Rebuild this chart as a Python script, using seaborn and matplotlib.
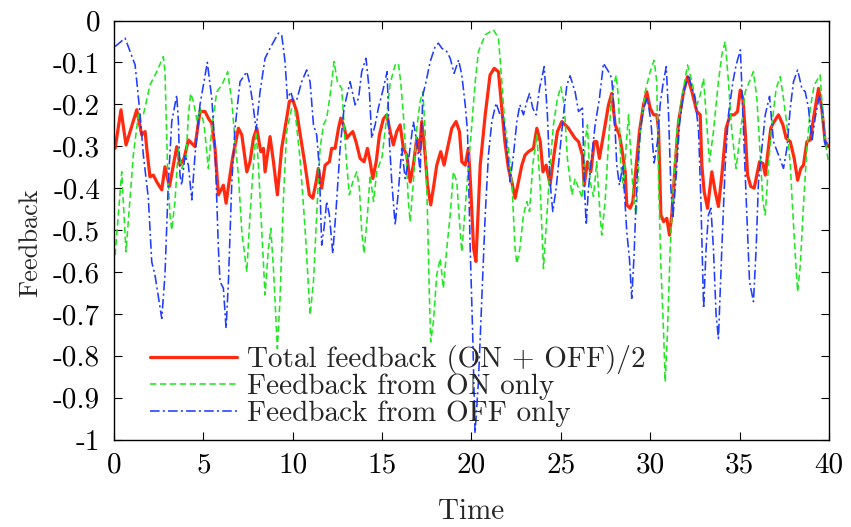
import numpy as np
import pandas as pd
import matplotlib
matplotlib.use("Agg")
import matplotlib.pyplot as plt
import seaborn as sns

# ---------------- data ----------------
t_total = [0.06,0.39,0.67,1.27,1.55,1.74,1.83,2.01,2.2,2.39,2.67,2.85,3.1,3.32,3.51,3.69,3.92,4.16,4.53,4.81,
           5.09,5.3,5.47,5.65,5.84,6.12,6.27,6.49,6.63,6.96,7.15,7.43,7.61,7.8,7.99,8.21,8.36,8.45,8.73,8.92,
           9.14,9.38,9.63,9.81,10.0,10.22,10.41,10.69,10.93,11.12,11.31,11.43,11.62,11.81,12.05,12.18,12.37,12.56,12.69,12.84,
           13.02,13.17,13.36,13.54,13.77,13.99,14.18,14.33,14.48,14.67,14.85,15.07,15.26,15.45,15.63,15.82,16.01,16.19,16.38,16.57,
           16.75,16.94,17.09,17.22,17.41,17.54,17.72,17.87,18.06,18.28,18.47,18.66,18.9,19.14,19.33,19.46,19.65,19.83,19.96,20.12,
           20.25,20.49,20.77,21.04,21.27,21.51,21.7,21.87,22.07,22.26,22.44,22.63,22.82,23.0,23.19,23.47,23.66,23.85,24.0,24.18,
           24.4,24.59,24.81,25.06,25.24,25.43,25.67,25.8,25.99,26.21,26.31,26.49,26.68,26.87,27.01,27.16,27.29,27.48,27.67,27.85,
           28.04,28.28,28.47,28.6,28.69,28.88,29.03,29.22,29.4,29.63,29.81,30.0,30.19,30.37,30.47,30.6,30.75,30.93,31.08,31.21,
           31.4,31.59,31.87,32.09,32.34,32.61,32.8,32.89,33.02,33.21,33.45,33.64,33.82,34.01,34.25,34.48,34.7,34.89,35.04,35.19,
           35.32,35.45,35.63,35.82,35.97,36.12,36.31,36.44,36.57,36.75,36.94,37.18,37.43,37.61,37.84,38.06,38.25,38.43,38.58,38.77,
           38.96,39.14,39.42,39.6,39.79,39.98]
total = [-0.305,-0.213,-0.297,-0.213,-0.273,-0.265,-0.305,-0.373,-0.369,-0.385,-0.404,-0.349,-0.396,-0.345,-0.301,-0.345,-0.329,-0.285,-0.301,-0.217,
         -0.217,-0.235,-0.245,-0.305,-0.416,-0.393,-0.436,-0.369,-0.329,-0.257,-0.273,-0.361,-0.337,-0.281,-0.257,-0.313,-0.305,-0.361,-0.277,-0.337,
         -0.416,-0.305,-0.241,-0.193,-0.189,-0.217,-0.27,-0.345,-0.416,-0.424,-0.385,-0.353,-0.400,-0.345,-0.337,-0.305,-0.305,-0.257,-0.233,-0.249,
         -0.281,-0.273,-0.265,-0.289,-0.329,-0.337,-0.305,-0.337,-0.377,-0.337,-0.273,-0.235,-0.225,-0.265,-0.297,-0.265,-0.249,-0.305,-0.321,-0.385,
         -0.345,-0.281,-0.313,-0.241,-0.321,-0.393,-0.440,-0.400,-0.345,-0.313,-0.345,-0.305,-0.257,-0.241,-0.265,-0.337,-0.345,-0.305,-0.400,-0.544,
         -0.575,-0.345,-0.225,-0.130,-0.114,-0.122,-0.209,-0.289,-0.353,-0.385,-0.424,-0.385,-0.345,-0.321,-0.313,-0.305,-0.257,-0.289,-0.361,-0.345,
         -0.392,-0.329,-0.265,-0.241,-0.249,-0.257,-0.273,-0.281,-0.289,-0.321,-0.393,-0.337,-0.361,-0.289,-0.289,-0.329,-0.297,-0.249,-0.201,-0.174,
         -0.249,-0.273,-0.321,-0.361,-0.440,-0.448,-0.432,-0.345,-0.265,-0.201,-0.170,-0.209,-0.225,-0.225,-0.26,-0.464,-0.480,-0.472,-0.512,-0.464,
         -0.345,-0.241,-0.170,-0.134,-0.170,-0.217,-0.225,-0.345,-0.408,-0.448,-0.361,-0.408,-0.444,-0.369,-0.257,-0.225,-0.225,-0.217,-0.166,-0.186,
         -0.265,-0.369,-0.396,-0.400,-0.369,-0.337,-0.341,-0.369,-0.321,-0.257,-0.241,-0.225,-0.249,-0.281,-0.289,-0.329,-0.381,-0.353,-0.345,-0.289,
         -0.285,-0.233,-0.162,-0.209,-0.289,-0.301]

t_on = [0.06,0.43,0.67,1.08,1.36,1.64,2.01,2.39,2.76,2.85,2.99,3.13,3.23,3.41,3.6,3.79,4.03,4.16,4.29,4.44,
        4.66,4.81,5.04,5.28,5.47,5.75,6.03,6.36,6.59,6.77,6.96,7.15,7.43,7.61,7.8,7.95,8.08,8.27,8.45,8.64,
        8.77,8.92,9.14,9.29,9.48,9.66,9.94,10.13,10.41,10.69,10.88,10.97,11.16,11.34,11.53,11.72,11.9,12.09,12.31,12.5,
        12.74,12.87,13.02,13.17,13.36,13.58,13.73,13.86,13.99,14.18,14.33,14.52,14.7,15.0,15.2,15.45,15.73,15.91,16.04,16.19,
        16.34,16.47,16.57,16.75,16.94,17.13,17.28,17.41,17.54,17.65,17.72,17.87,18.06,18.25,18.43,18.62,18.81,18.99,19.18,19.33,
        19.46,19.65,19.83,20.02,20.21,20.39,20.77,21.23,21.51,21.7,21.87,22.07,22.26,22.44,22.54,22.71,22.91,23.1,23.25,23.43,
        23.66,23.85,24.03,24.22,24.4,24.59,24.81,25.0,25.19,25.37,25.62,25.8,25.99,26.21,26.36,26.49,26.64,26.83,27.01,27.2,
        27.29,27.48,27.67,27.85,28.1,28.23,28.36,28.51,28.66,28.79,28.92,29.07,29.22,29.44,29.72,30.0,30.22,30.37,30.47,30.6,
        30.75,30.84,30.97,31.12,31.31,31.49,31.77,32.09,32.34,32.61,32.8,32.99,33.13,33.32,33.54,33.82,34.01,34.2,34.38,34.57,
        34.81,35.04,35.32,35.78,35.97,36.16,36.31,36.44,36.62,36.81,37.05,37.28,37.46,37.65,37.84,37.99,38.12,38.25,38.4,38.58,
        38.77,38.96,39.18,39.51,39.7,39.85,39.98]
on_only = [-0.560,-0.361,-0.552,-0.321,-0.225,-0.225,-0.154,-0.122,-0.086,-0.122,-0.345,-0.464,-0.500,-0.432,-0.305,-0.353,-0.329,-0.225,-0.174,-0.193,
           -0.241,-0.209,-0.249,-0.353,-0.257,-0.170,-0.154,-0.122,-0.193,-0.289,-0.369,-0.504,-0.600,-0.464,-0.345,-0.265,-0.345,-0.504,-0.655,-0.544,
           -0.496,-0.592,-0.783,-0.663,-0.424,-0.265,-0.209,-0.217,-0.33,-0.496,-0.639,-0.703,-0.623,-0.464,-0.305,-0.249,-0.233,-0.178,-0.098,-0.146,
           -0.162,-0.249,-0.345,-0.416,-0.385,-0.361,-0.400,-0.504,-0.556,-0.464,-0.369,-0.432,-0.361,-0.325,-0.25,-0.15,-0.106,-0.102,-0.146,-0.225,
           -0.321,-0.432,-0.480,-0.385,-0.257,-0.193,-0.170,-0.265,-0.464,-0.663,-0.767,-0.719,-0.607,-0.568,-0.639,-0.544,-0.464,-0.361,-0.385,-0.480,
           -0.552,-0.448,-0.345,-0.249,-0.146,-0.074,-0.034,-0.022,-0.042,-0.146,-0.249,-0.305,-0.385,-0.544,-0.580,-0.544,-0.464,-0.432,-0.456,-0.345,
           -0.273,-0.400,-0.592,-0.464,-0.345,-0.249,-0.186,-0.158,-0.2,-0.33,-0.416,-0.377,-0.400,-0.424,-0.289,-0.249,-0.385,-0.420,-0.337,-0.464,
           -0.512,-0.432,-0.289,-0.178,-0.130,-0.186,-0.345,-0.400,-0.297,-0.225,-0.321,-0.424,-0.464,-0.265,-0.170,-0.122,-0.095,-0.146,-0.385,-0.584,
           -0.743,-0.862,-0.743,-0.544,-0.385,-0.265,-0.186,-0.106,-0.146,-0.201,-0.178,-0.138,-0.225,-0.337,-0.265,-0.146,-0.082,-0.050,-0.146,-0.265,
           -0.353,-0.27,-0.17,-0.122,-0.186,-0.321,-0.432,-0.464,-0.345,-0.249,-0.162,-0.134,-0.186,-0.249,-0.345,-0.464,-0.560,-0.647,-0.584,-0.440,
           -0.305,-0.209,-0.154,-0.130,-0.249,-0.305,-0.337]

t_off = [0.06,0.62,1.18,1.46,1.64,1.92,2.11,2.29,2.67,2.85,3.04,3.23,3.51,3.6,3.69,3.79,3.97,4.16,4.35,4.53,
         4.81,5.22,5.47,5.65,5.84,5.93,6.12,6.27,6.4,6.59,6.77,7.05,7.43,7.61,7.8,7.95,8.17,8.45,8.73,9.2,
         9.38,9.57,9.7,9.89,10.04,10.22,10.5,10.78,10.97,11.16,11.34,11.49,11.62,11.75,11.9,12.05,12.24,12.43,12.65,12.87,
         13.21,13.49,13.68,13.86,14.1,14.29,14.42,14.61,14.79,15.07,15.28,15.41,15.54,15.73,15.91,16.1,16.29,16.47,16.75,16.94,
         17.13,17.28,17.46,17.69,17.97,18.15,18.34,18.62,18.81,19.03,19.28,19.46,19.65,19.78,19.93,20.07,20.2,20.39,20.58,20.77,
         20.95,21.14,21.38,21.6,21.79,21.98,22.16,22.35,22.54,22.71,22.91,23.1,23.25,23.43,23.62,23.81,24.07,24.25,24.4,24.55,
         24.74,24.96,25.15,25.34,25.52,25.8,25.99,26.21,26.31,26.42,26.55,26.74,26.92,27.16,27.39,27.67,27.85,28.0,28.13,28.28,
         28.47,28.6,28.69,28.84,28.97,29.1,29.25,29.44,29.63,29.85,30.04,30.22,30.41,30.56,30.71,30.9,31.03,31.16,31.27,31.46,
         31.64,31.87,32.15,32.34,32.52,32.71,32.84,32.99,33.13,33.26,33.4,33.54,33.69,33.82,34.01,34.2,34.38,34.63,34.81,35.05,
         35.26,35.41,35.56,35.78,35.93,36.06,36.25,36.44,36.68,36.9,37.18,37.46,37.65,37.84,38.02,38.25,38.49,38.68,38.86,39.05,
         39.23,39.48,39.66,39.79,39.98]
off_only = [-0.062,-0.042,-0.106,-0.225,-0.321,-0.424,-0.576,-0.607,-0.711,-0.607,-0.385,-0.241,-0.178,-0.241,-0.369,-0.393,-0.321,-0.345,-0.428,-0.321,
            -0.201,-0.100,-0.186,-0.305,-0.544,-0.623,-0.639,-0.735,-0.623,-0.385,-0.257,-0.146,-0.122,-0.154,-0.209,-0.261,-0.170,-0.090,-0.066,-0.030,
            -0.034,-0.098,-0.186,-0.170,-0.193,-0.190,-0.146,-0.118,-0.146,-0.249,-0.273,-0.353,-0.536,-0.496,-0.432,-0.464,-0.556,-0.448,-0.305,-0.209,
            -0.146,-0.201,-0.186,-0.122,-0.090,-0.170,-0.281,-0.249,-0.209,-0.162,-0.122,-0.289,-0.385,-0.488,-0.408,-0.305,-0.377,-0.337,-0.241,-0.289,
            -0.361,-0.178,-0.146,-0.098,-0.062,-0.054,-0.066,-0.074,-0.090,-0.126,-0.094,-0.130,-0.201,-0.265,-0.544,-0.75,-0.985,-0.862,-0.663,-0.464,
            -0.321,-0.241,-0.197,-0.225,-0.233,-0.305,-0.385,-0.321,-0.241,-0.201,-0.225,-0.193,-0.174,-0.209,-0.225,-0.162,-0.110,-0.225,-0.385,-0.456,
            -0.400,-0.305,-0.225,-0.154,-0.132,-0.170,-0.217,-0.209,-0.385,-0.488,-0.400,-0.321,-0.249,-0.186,-0.102,-0.122,-0.138,-0.225,-0.345,-0.393,
            -0.345,-0.440,-0.504,-0.568,-0.663,-0.560,-0.385,-0.265,-0.209,-0.186,-0.241,-0.340,-0.289,-0.200,-0.154,-0.110,-0.225,-0.400,-0.472,-0.369,
            -0.249,-0.170,-0.130,-0.162,-0.186,-0.265,-0.432,-0.687,-0.544,-0.464,-0.448,-0.544,-0.703,-0.759,-0.544,-0.345,-0.225,-0.146,-0.106,-0.07,
            -0.305,-0.464,-0.623,-0.671,-0.544,-0.385,-0.305,-0.225,-0.181,-0.289,-0.321,-0.353,-0.305,-0.209,-0.146,-0.118,-0.162,-0.170,-0.209,-0.289,
            -0.233,-0.178,-0.225,-0.297,-0.281]

labels = ["Total feedback (ON + OFF)/2", "Feedback from ON only", "Feedback from OFF only"]
x_ticks = [0, 5, 10, 15, 20, 25, 30, 35, 40]
y_ticks = [0, -0.1, -0.2, -0.3, -0.4, -0.5, -0.6, -0.7, -0.8, -0.9, -1]
y_tick_labels = ["0", "-0.1", "-0.2", "-0.3", "-0.4", "-0.5", "-0.6", "-0.7", "-0.8", "-0.9", "-1"]

# ---------------- styling ----------------
sns.set_style("ticks")
plt.rcParams["font.family"] = ["cmr10", "DejaVu Serif"]
plt.rcParams["mathtext.fontset"] = "cm"
plt.rcParams["axes.unicode_minus"] = False
plt.rcParams["axes.formatter.use_mathtext"] = True

fig, ax = plt.subplots(figsize=(8.51, 5.27), dpi=100)
fig.subplots_adjust(left=0.134, right=0.974, bottom=0.166, top=0.961)

df_total = pd.DataFrame({"t": t_total, "v": total})
df_on = pd.DataFrame({"t": t_on, "v": on_only})
df_off = pd.DataFrame({"t": t_off, "v": off_only})

sns.lineplot(data=df_total, x="t", y="v", ax=ax, color="#ff2a10", linewidth=2.3,
             estimator=None, sort=False, label=labels[0])
sns.lineplot(data=df_on, x="t", y="v", ax=ax, color="#22e622", linewidth=1.15,
             estimator=None, sort=False, label=labels[1])
sns.lineplot(data=df_off, x="t", y="v", ax=ax, color="#1f3cff", linewidth=1.15,
             estimator=None, sort=False, label=labels[2])
lines = ax.get_lines()
lines[1].set_dashes((4.0, 2.2))
lines[2].set_dashes((6.0, 2.0, 1.3, 2.0))

ax.set_xlim(0, 40)
ax.set_ylim(-1, 0)
ax.set_xticks(x_ticks)
ax.set_xticklabels([str(v) for v in x_ticks])
ax.set_yticks(y_ticks)
ax.set_yticklabels(y_tick_labels)
ax.tick_params(axis="both", which="both", direction="in", length=6, width=0.8,
               top=True, right=True, labelsize=21, colors="black")
ax.tick_params(axis="x", pad=9)
ax.tick_params(axis="y", pad=10)
for sp in ax.spines.values():
    sp.set_visible(True)
    sp.set_linewidth(1.0)
    sp.set_color("black")

ax.set_xlabel("Time", fontsize=21)
ax.set_ylabel("Feedback", fontsize=19)
ax.xaxis.set_label_coords(0.5, -0.14)
ax.yaxis.set_label_coords(-0.10, 0.47)

leg = ax.legend(loc="lower left", bbox_to_anchor=(0.05, 0.03), frameon=False,
                fontsize=21, handlelength=3.0, handletextpad=0.35,
                labelspacing=0.0, borderpad=0, borderaxespad=0)
leg_lines = leg.get_lines()
leg_lines[1].set_dashes((4.0, 2.2))
leg_lines[2].set_dashes((6.0, 2.0, 1.3, 2.0))

fig.savefig("out.png", dpi=100)
